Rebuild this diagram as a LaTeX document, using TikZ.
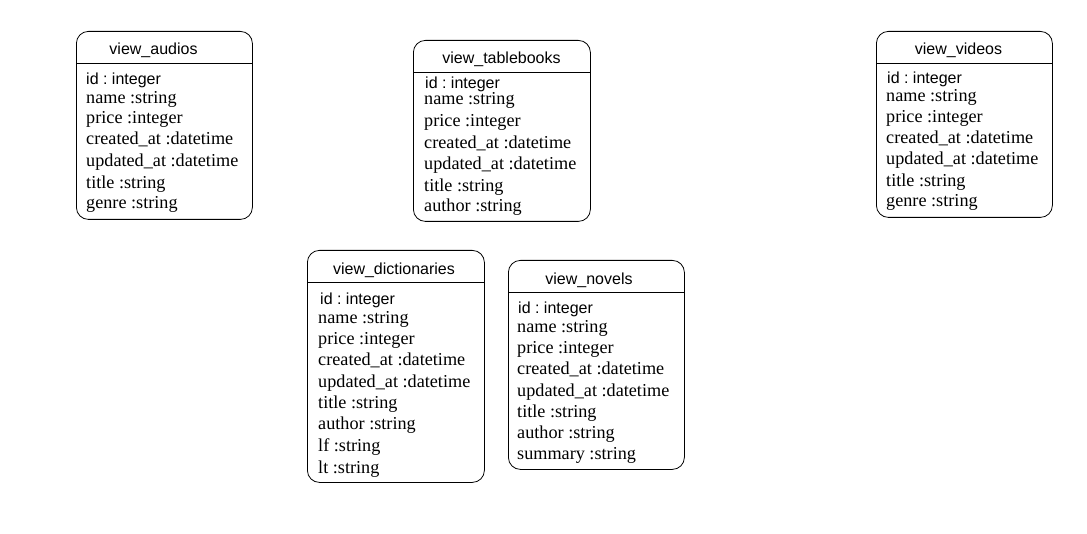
\documentclass[tikz,border=0pt]{standalone}
\usepackage{fontspec}
\setmainfont{Liberation Serif}
\setsansfont{Liberation Sans}
\begin{document}
\frenchspacing
\begin{tikzpicture}[x=1pt,y=-1pt,
  box/.style={draw, rounded corners=12pt, line width=0.8pt, inner sep=0pt, anchor=north west},
  hdr/.style={font=\sffamily\fontsize{16}{16}\selectfont, inner sep=0pt, text height=12pt, text depth=4pt, yshift=-2.5pt},
  fld/.style={font=\fontsize{18.2}{18}\selectfont, anchor=west, inner sep=0pt, text height=12pt, text depth=4pt, yshift=-2.5pt},
  idf/.style={font=\sffamily\fontsize{16}{16}\selectfont, anchor=west, inner sep=0pt, text height=12pt, text depth=4pt, yshift=-2.5pt}]
\useasboundingbox (0,0) rectangle (1087,534);
\newcommand\mkbox[8]{% name, x, y, w, h, title, title x, title y
  \node[box, minimum width=#4pt, minimum height=#5pt] (#1) at (#2,#3) {};
  \draw[line width=0.8pt] ([yshift=-32pt]#1.north west) -- ([yshift=-32pt]#1.north east);
  \node[hdr] (#1-t) at (#7,#8) {#6};
}
% view_audios
\mkbox{audios}{76}{31}{176}{188}{view\_audios}{153.5}{48}
\node[idf] (a1) at (86,78) {id : integer};
\node[fld] (a2) at (86,97) {name :string};
\node[fld] (a3) at (86,117) {price :integer};
\node[fld] (a4) at (86,138) {created\_at :datetime};
\node[fld] (a5) at (86,160) {updated\_at :datetime};
\node[fld] (a6) at (86,182) {title :string};
\node[fld] (a7) at (86,202) {genre :string};
% view_tablebooks
\mkbox{tablebooks}{413}{40}{177}{181}{view\_tablebooks}{501.5}{57}
\node[idf] (b1) at (425,82) {id : integer};
\node[fld] (b2) at (424,98) {name :string};
\node[fld] (b3) at (424,120) {price :integer};
\node[fld] (b4) at (424,142) {created\_at :datetime};
\node[fld] (b5) at (424,163) {updated\_at :datetime};
\node[fld] (b6) at (424,185) {title :string};
\node[fld] (b7) at (424,205) {author :string};
% view_videos
\mkbox{videos}{876}{31}{176}{186}{view\_videos}{958.5}{48}
\node[idf] (c1) at (887,77) {id : integer};
\node[fld] (c2) at (886,95) {name :string};
\node[fld] (c3) at (886,116) {price :integer};
\node[fld] (c4) at (886,137) {created\_at :datetime};
\node[fld] (c5) at (886,158) {updated\_at :datetime};
\node[fld] (c6) at (886,180) {title :string};
\node[fld] (c7) at (886,200) {genre :string};
% view_dictionaries
\mkbox{dictionaries}{307}{250}{177}{232}{view\_dictionaries}{394}{268}
\node[idf] (d1) at (320,298) {id : integer};
\node[fld] (d2) at (318,317) {name :string};
\node[fld] (d3) at (318,338) {price :integer};
\node[fld] (d4) at (318,359) {created\_at :datetime};
\node[fld] (d5) at (318,381) {updated\_at :datetime};
\node[fld] (d6) at (318,402) {title :string};
\node[fld] (d7) at (318,423) {author :string};
\node[fld] (d8) at (318,445) {lf :string};
\node[fld] (d9) at (318,467) {lt :string};
% view_novels
\mkbox{novels}{508}{260}{176}{209}{view\_novels}{589}{278}
\node[idf] (e1) at (518,307) {id : integer};
\node[fld] (e2) at (517,326) {name :string};
\node[fld] (e3) at (517,347) {price :integer};
\node[fld] (e4) at (517,368) {created\_at :datetime};
\node[fld] (e5) at (517,390) {updated\_at :datetime};
\node[fld] (e6) at (517,411) {title :string};
\node[fld] (e7) at (517,432) {author :string};
\node[fld] (e8) at (517,453) {summary :string};
\end{tikzpicture}
\end{document}
